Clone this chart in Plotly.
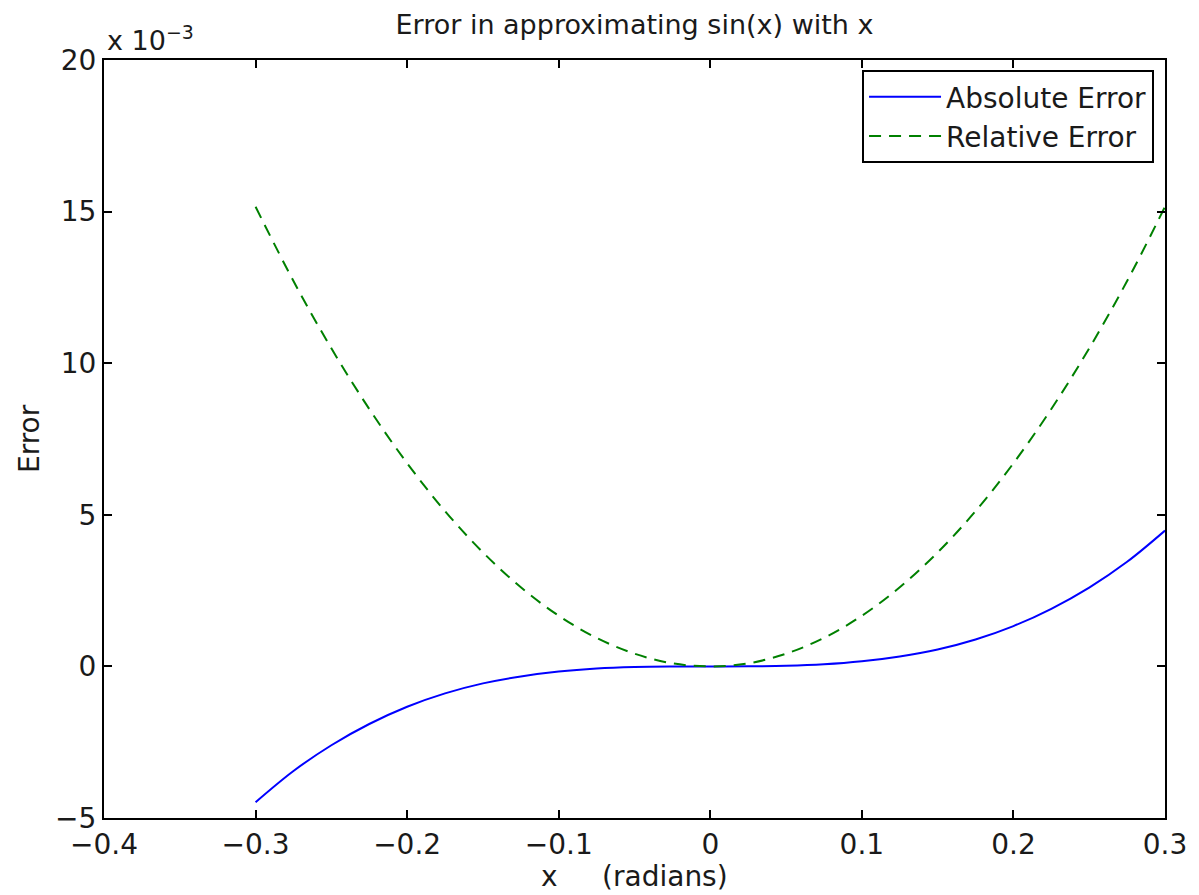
import plotly.graph_objects as go

# x values (radians)
x_vals = [-0.3, -0.275, -0.25, -0.225, -0.2, -0.175, -0.15, -0.125, -0.1, -0.075, -0.05, -0.025,
          0.0, 0.025, 0.05, 0.075, 0.1, 0.125, 0.15, 0.175, 0.2, 0.225, 0.25, 0.275, 0.3]
# errors in units of 1e-3
abs_err = [-4.48, -3.45, -2.60, -1.90, -1.33, -0.89, -0.56, -0.33, -0.17, -0.07, -0.02, -0.003,
           0.0, 0.003, 0.02, 0.07, 0.17, 0.33, 0.56, 0.89, 1.33, 1.90, 2.60, 3.45, 4.48]
rel_err = [15.16, 12.71, 10.49, 8.49, 6.70, 5.12, 3.76, 2.61, 1.67, 0.94, 0.42, 0.10,
           0.0, 0.10, 0.42, 0.94, 1.67, 2.61, 3.76, 5.12, 6.70, 8.49, 10.49, 12.71, 15.16]

x_ticks = [-0.4, -0.3, -0.2, -0.1, 0, 0.1, 0.2, 0.3]
y_ticks = [-5, 0, 5, 10, 15, 20]

FONT = "DejaVu Sans, Verdana, sans-serif"
TXT = "#1a1a1a"

W, H = 1191, 887  # page body has an 8px margin

fig = go.Figure()
fig.add_trace(go.Scatter(x=x_vals, y=abs_err, mode="lines", name="Absolute Error",
                         line=dict(color="#0000ff", width=2, shape="spline")))
fig.add_trace(go.Scatter(x=x_vals, y=rel_err, mode="lines", name="Relative Error",
                         line=dict(color="#008000", width=2, dash="12px,8px", shape="spline")))

axis_common = dict(showgrid=False, zeroline=False, showline=True, linecolor="black", linewidth=2,
                   mirror="ticks", ticks="inside", ticklen=8, tickwidth=1.5, tickcolor="black",
                   tickfont=dict(family=FONT, size=28, color=TXT))

fig.update_layout(
    width=W, height=H,
    margin=dict(l=96, r=30, t=52, b=77),
    paper_bgcolor="white", plot_bgcolor="white",
    showlegend=True,
    title=dict(text="Error in approximating sin(x) with x", x=0.5, xanchor="center",
               xref="paper", y=1 - 17 / H, yref="container", yanchor="middle",
               font=dict(family=FONT, size=27, color=TXT)),
    xaxis=dict(range=[-0.4, 0.3], tickvals=x_ticks,
               ticktext=[("−" if v < 0 else "") + (f"{abs(v):g}") for v in x_ticks],
               **axis_common),
    yaxis=dict(range=[-5, 20], tickvals=y_ticks,
               ticktext=[("−" if v < 0 else "") + str(abs(v)) for v in y_ticks],
               **axis_common),
    legend=dict(x=1 - 11 / 1065, y=1 - 10 / 758, xanchor="right", yanchor="top", bgcolor="white",
                bordercolor="black", borderwidth=2, itemwidth=72, tracegroupgap=0,
                font=dict(family=FONT, size=28, color=TXT)),
    annotations=[
        dict(text="x 10<sup>−3</sup>", x=0, y=1, xref="paper", yref="paper", xanchor="left",
             yanchor="bottom", showarrow=False, xshift=1, yshift=2,
             font=dict(family=FONT, size=27, color=TXT)),
        dict(text="x\u00a0\u00a0\u00a0\u00a0\u00a0(radians)", x=0.5, y=0, xref="paper", yref="paper",
             xanchor="center", yanchor="middle", yshift=-58, showarrow=False,
             font=dict(family=FONT, size=28, color=TXT)),
        dict(text="Error", x=0, y=0.5, xref="paper", yref="paper", xanchor="center",
             yanchor="middle", xshift=-75, textangle=-90, showarrow=False,
             font=dict(family=FONT, size=28, color=TXT)),
    ],
)

fig.write_html("out.html")
